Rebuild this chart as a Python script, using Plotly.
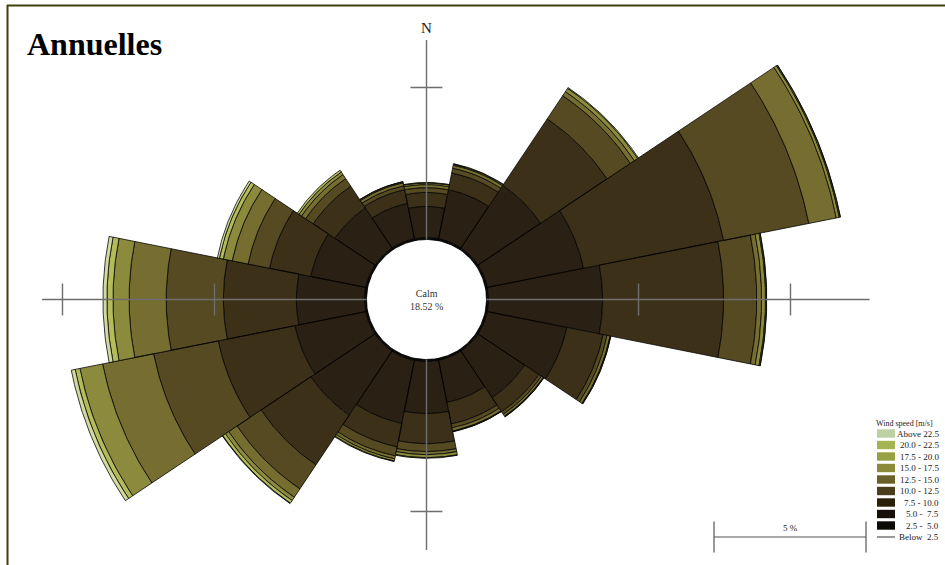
import numpy as np
import plotly.graph_objects as go

# ---------------- data ----------------
directions = ["N", "NNE", "NE", "ENE", "E", "ESE", "SE", "SSE",
              "S", "SSW", "SW", "WSW", "W", "WNW", "NW", "NNW"]
angles = [0, 22.5, 45, 67.5, 90, 112.5, 135, 157.5,
          180, 202.5, 225, 247.5, 270, 292.5, 315, 337.5]
sector_width = 22.5

speed_classes = ["2.5 -  5.0", "5.0 -  7.5", "7.5 - 10.0", "10.0 - 12.5",
                 "12.5 - 15.0", "15.0 - 17.5", "17.5 - 20.0", "20.0 - 22.5",
                 "Above 22.5"]

# frequency (%) per speed class, directions N ... NNW
f_2_5 = [0.03, 0.03, 0.03, 0.03, 0.03, 0.03, 0.03, 0.03, 0.03, 0.03, 0.03, 0.03, 0.03, 0.03, 0.03, 0.03]
f_5_0 = [0.04, 0.04, 0.04, 0.04, 0.04, 0.04, 0.04, 0.04, 0.04, 0.04, 0.04, 0.04, 0.04, 0.04, 0.04, 0.04]
f_7_5 = [1.02, 1.64, 2.47, 3.22, 3.75, 2.66, 1.84, 1.41, 1.71, 2.11, 2.53, 2.37, 2.24, 1.84, 1.58, 1.18]
f_10_0 = [0.46, 0.56, 2.63, 4.70, 3.98, 1.22, 0.56, 0.72, 0.99, 0.79, 1.97, 2.57, 2.40, 1.38, 0.86, 0.46]
f_12_5 = [0.16, 0.16, 0.92, 2.86, 1.09, 0.13, 0.10, 0.13, 0.26, 0.30, 0.95, 2.17, 1.88, 0.72, 0.30, 0.13]
f_15_0 = [0.10, 0.10, 0.16, 0.92, 0.16, 0.10, 0.07, 0.10, 0.10, 0.10, 0.33, 1.71, 1.22, 0.53, 0.16, 0.10]
f_17_5 = [0.05, 0.03, 0.13, 0.10, 0.13, 0.02, 0.02, 0.02, 0.10, 0.07, 0.13, 0.76, 0.53, 0.30, 0.10, 0.03]
f_20_0 = [0.02, 0.02, 0.03, 0.03, 0.03, 0.01, 0.01, 0.01, 0.02, 0.02, 0.10, 0.16, 0.20, 0.13, 0.07, 0.01]
f_22_5 = [0.00, 0.00, 0.00, 0.01, 0.01, 0.00, 0.00, 0.00, 0.00, 0.00, 0.02, 0.13, 0.13, 0.07, 0.00, 0.00]

calm_pct = 18.52
scale_pct = 5
tick_pcts = [5, 10]

series = [f_2_5, f_5_0, f_7_5, f_10_0, f_12_5, f_15_0, f_17_5, f_20_0, f_22_5]

# ---------------- style ----------------
rose_colors = ["#0e0b06", "#1a140b", "#2a2014", "#3c3018", "#564a23",
               "#766e30", "#8c8a3c", "#b4bc5a", "#d2daa0"]
legend_colors = ["#0c0a04", "#161008", "#2a2008", "#4a3e1c", "#6a602a",
                 "#8a8a3a", "#98a044", "#a4b452", "#bcd0a4"]

W, H = 945, 565
CX, CY = 426.5, 299.5          # rose centre in pixels
PX_PER_PCT = 30.4              # radial scale (px per 1 %)
HOLE = 60.0 / PX_PER_PCT       # calm circle radius in % units
SERIF = "Liberation Serif, Times New Roman, serif"
AXIS_COL = "#6e6e6e"
TICK_HALF = 16 / PX_PER_PCT


def px(x):
    return x / W


def py(y):
    return 1 - y / H


def polar_xy(r, theta_deg):
    t = np.radians(theta_deg)
    return r * np.sin(t), r * np.cos(t)


fig = go.Figure()

# stacked wind-rose sectors
base = [HOLE] * len(angles)
for name, vals, col in zip(speed_classes, series, rose_colors):
    xs, ys = [], []
    for i, (th, v) in enumerate(zip(angles, vals)):
        r0 = base[i]
        r1 = r0 + v
        base[i] = r1
        if v <= 0:
            continue
        arc = np.linspace(th - sector_width / 2, th + sector_width / 2, 40)
        ox, oy = polar_xy(r1, arc)
        ix, iy = polar_xy(r0, arc[::-1])
        xs += list(ox) + list(ix) + [ox[0], None]
        ys += list(oy) + list(iy) + [oy[0], None]
    fig.add_trace(go.Scatter(x=xs, y=ys, mode="lines", fill="toself",
                             fillcolor=col, name=name,
                             line=dict(color="rgba(0,0,0,0.85)", width=0.9),
                             showlegend=False, hoverinfo="skip"))

# compass axes (outside the calm circle)
axis_ends = {0: 6.56, 90: 12.6, 180: 6.27, 270: 10.67}
ax_x, ax_y = [], []
for th, rr in axis_ends.items():
    x0, y0 = polar_xy(HOLE, th)
    x1, y1 = polar_xy(HOLE + rr, th)
    ax_x += [x0, x1, None]
    ax_y += [y0, y1, None]
# tick marks at 5 % and 10 %
for t in tick_pcts:
    d = HOLE + t
    for s in (-1, 1):
        ax_x += [s * d, s * d, None]
        ax_y += [-TICK_HALF, TICK_HALF, None]
        ax_x += [-TICK_HALF, TICK_HALF, None]
        ax_y += [s * d, s * d, None]
fig.add_trace(go.Scatter(x=ax_x, y=ax_y, mode="lines",
                         line=dict(color=AXIS_COL, width=1.4),
                         showlegend=False, hoverinfo="skip", cliponaxis=True))

xr = [-CX / PX_PER_PCT, (W - CX) / PX_PER_PCT]
yr = [-(H - CY) / PX_PER_PCT, CY / PX_PER_PCT]
fig.update_layout(
    width=W, height=H, margin=dict(l=0, r=0, t=0, b=0),
    paper_bgcolor="white", plot_bgcolor="white",
    xaxis=dict(range=xr, visible=False, fixedrange=True),
    yaxis=dict(range=yr, visible=False, fixedrange=True),
)

shapes = []
annotations = []

# frame (top and left edges)
shapes.append(dict(type="line", xref="paper", yref="paper", x0=px(7), x1=1,
                   y0=py(5.5), y1=py(5.5), line=dict(color="#3f3f0c", width=2)))
shapes.append(dict(type="line", xref="paper", yref="paper", x0=px(7.5), x1=px(7.5),
                   y0=py(5), y1=0, line=dict(color="#3f3f0c", width=2)))

# scale bar (length = scale_pct in data units)
sb_x1 = (866 - CX) / PX_PER_PCT
sb_x0 = sb_x1 - scale_pct
sb_y = (CY - 537) / PX_PER_PCT
bar_half = 15.5 / PX_PER_PCT
shapes.append(dict(type="line", xref="x", yref="y", x0=sb_x0, x1=sb_x1,
                   y0=sb_y, y1=sb_y, line=dict(color="#555555", width=1.2)))
for xx in (sb_x0, sb_x1):
    shapes.append(dict(type="line", xref="x", yref="y", x0=xx, x1=xx,
                       y0=sb_y - bar_half, y1=sb_y + bar_half,
                       line=dict(color="#555555", width=1.2)))
annotations.append(dict(x=(sb_x0 + sb_x1) / 2, y=sb_y, xref="x", yref="y",
                        yshift=9, text=f"{scale_pct} %", showarrow=False,
                        yanchor="middle",
                        font=dict(family=SERIF, size=9, color="#222222")))

# legend (custom, wind-rose style)
annotations.append(dict(x=px(935), y=py(423), xref="paper", yref="paper",
                        text="Wind speed [m/s]", showarrow=False, xanchor="right",
                        yanchor="middle",
                        font=dict(family=SERIF, size=8, color="#222222")))
row_y0, row_dy = 433.5, 11.5
labels_top_down = list(reversed(speed_classes))
cols_top_down = list(reversed(legend_colors))
for i, (lab, col) in enumerate(zip(labels_top_down, cols_top_down)):
    yc = row_y0 + i * row_dy
    shapes.append(dict(type="rect", xref="paper", yref="paper",
                       x0=px(877), x1=px(895), y0=py(yc - 4.2), y1=py(yc + 4.2),
                       fillcolor=col, line=dict(width=0)))
    annotations.append(dict(x=px(941), y=py(yc), xref="paper", yref="paper",
                            text=lab, showarrow=False, xanchor="right",
                            yanchor="middle",
                            font=dict(family=SERIF, size=9, color="#222222")))
yb = row_y0 + len(speed_classes) * row_dy
shapes.append(dict(type="line", xref="paper", yref="paper", x0=px(877), x1=px(895),
                   y0=py(yb), y1=py(yb), line=dict(color="#555555", width=1.2)))
annotations.append(dict(x=px(941), y=py(yb), xref="paper", yref="paper",
                        text="Below  2.5", showarrow=False, xanchor="right",
                        yanchor="middle",
                        font=dict(family=SERIF, size=9, color="#222222")))

# calm text, north label, title
annotations.append(dict(x=0, y=0, xref="x", yref="y",
                        text=f"Calm<br>{calm_pct:.2f} %", showarrow=False,
                        yanchor="middle",
                        font=dict(family=SERIF, size=10, color="#333333")))
annotations.append(dict(x=px(CX), y=py(28), xref="paper", yref="paper",
                        text="N", showarrow=False, yanchor="middle",
                        font=dict(family=SERIF, size=15, color="#222222")))
annotations.append(dict(x=px(25), y=py(44), xref="paper", yref="paper",
                        text="<b>Annuelles</b>", showarrow=False, xanchor="left",
                        yanchor="middle",
                        font=dict(family=SERIF, size=32, color="#000000")))

fig.update_layout(shapes=shapes, annotations=annotations)
fig.write_html("out.html")
